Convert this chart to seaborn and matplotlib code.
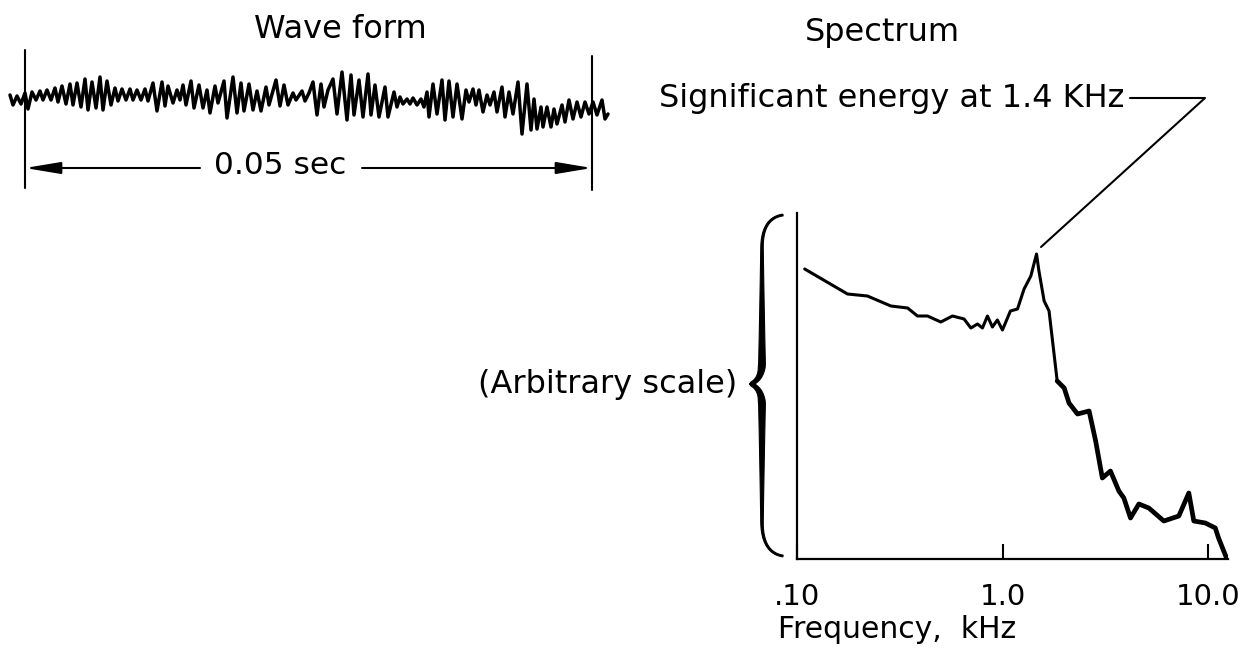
import matplotlib
matplotlib.use("Agg")
import matplotlib.pyplot as plt
import numpy as np
import seaborn as sns

# --- chart values ---

# wave form: digitised extrema of the trace (horizontal position in chart px, offset up in px)
wave_x = [10, 13, 17, 21, 25, 28, 32, 36, 40, 43, 47, 51, 55, 58, 62, 66, 70, 73, 77, 81,
          85, 88, 92, 96, 100, 103, 107, 111, 115, 118, 122, 126, 130, 133, 137, 141, 145, 148,
          153, 157, 162, 165, 168, 173, 177, 180, 183, 186, 191, 194, 199, 203, 207, 210,
          215, 218, 224, 227, 233, 237, 241, 244, 249, 253, 257, 261, 266, 269, 276, 280,
          284, 288, 293, 296, 302, 305, 309,
          313, 317, 321, 324, 328, 333, 337, 342, 347, 351, 354, 359, 363, 368, 371, 375,
          379, 385, 388, 394, 397, 400, 403, 407, 410, 413, 417, 421, 424, 427, 429, 433,
          437, 442, 445, 449, 453, 457,
          462, 466, 469, 473, 476, 479, 483, 487, 490, 494, 497, 502, 505, 509, 513, 518,
          522, 527, 531, 534, 537, 541, 543, 547, 551, 554, 557, 562, 565, 569, 573, 577,
          581, 585, 589, 593, 597, 602, 605, 608]
wave_y = [2, -8, 1, -7, 4, -12, 5, -3, 6, -3, 7, -3, 9, -5, 11, -7, 13, -8, 14, -10,
          18, -13, 15, -11, 20, -13, 16, -8, 9, -4, 8, -3, 8, -3, 7, -3, 8, -4,
          14, -14, 15, -9, 11, -6, 7, -3, 12, -8, 16, -11, 12, -11, 7, -16,
          11, -6, 16, -21, 20, -16, 14, -14, 13, -13, 6, -14, 10, -8, 17, -9,
          12, -8, 4, -3, 6, -4, 4,
          15, -18, 13, -10, 7, 18, -17, 25, -23, 22, -18, 17, -20, 23, -18, 12,
          -20, 10, -20, 5, -10, 0, -7, -2, -7, -1, -8, -2, -10, 5, -20, 13,
          -17, 17, -23, 16, -20, 13,
          -22, 7, -5, 8, -8, 7, -15, 2, -8, 5, -15, 10, -20, 5, -17, 15,
          -37, 13, -33, -2, -32, -10, -30, -10, -30, -12, -27, -8, -25, -3, -22, -5,
          -20, -5, -17, -5, -18, -3, -22, -17]

# spectrum (arbitrary level scale)
freq_khz = [0.109, 0.176, 0.220, 0.286, 0.345, 0.385, 0.431, 0.500, 0.570, 0.649,
            0.700, 0.754, 0.797, 0.843, 0.891, 0.942, 0.997, 1.09, 1.18, 1.27,
            1.37, 1.46, 1.50, 1.59, 1.68, 1.84, 1.99, 2.10, 2.31, 2.63,
            2.83, 3.05, 3.34, 3.67, 3.88, 4.18, 4.59, 5.13, 6.07, 7.18,
            8.03, 8.49, 9.66, 10.8, 11.2, 12.3]
level = [290, 265, 263, 253, 251, 243, 243, 237, 243, 240,
         231, 235, 231, 243, 232, 239, 229, 248, 250, 270,
         283, 305, 288, 258, 248, 178, 171, 156, 145, 148,
         118, 81, 88, 68, 61, 41, 55, 51, 38, 43,
         66, 38, 36, 31, 21, 0]

freq_ticks = [0.1, 1.0, 10.0]
freq_tick_labels = [".10", "1.0", "10.0"]

W, H = 1244, 664


def px_rect(x0, y0, x1, y1):
    """Figure-fraction rectangle from pixel corners (origin top-left)."""
    return [x0 / W, 1 - y1 / H, (x1 - x0) / W, (y1 - y0) / H]


def bezier(p0, p1, p2, p3, n=24):
    t = np.linspace(0, 1, n)[:, None]
    p0, p1, p2, p3 = (np.array(p, float) for p in (p0, p1, p2, p3))
    return (1 - t) ** 3 * p0 + 3 * (1 - t) ** 2 * t * p1 + 3 * (1 - t) * t ** 2 * p2 + t ** 3 * p3


sns.set_theme(style="white")
plt.rcParams["font.family"] = ["DejaVu Sans"]
plt.rcParams["text.color"] = "black"
plt.rcParams["axes.labelcolor"] = "black"
plt.rcParams["xtick.color"] = "black"

fig = plt.figure(figsize=(12.44, 6.64), dpi=100)
fig.patch.set_facecolor("white")

# overlay in pixel coordinates for the annotations
ov = fig.add_axes([0, 0, 1, 1])
ov.set_xlim(0, W)
ov.set_ylim(H, 0)
ov.axis("off")
ov.patch.set_alpha(0)

# --- wave form ---
wave_t = [(x - 25) * 50.0 / 567.0 for x in wave_x]  # px -> ms
axw = fig.add_axes(px_rect(25, 62, 592, 132))
sns.lineplot(x=wave_t, y=wave_y, ax=axw, color="black", linewidth=2.5,
             sort=False, estimator=None)
for ln in axw.lines:
    ln.set_clip_on(False)
    ln.set_solid_joinstyle("round")
axw.set_xlim(0, 50)
axw.set_ylim(-35, 35)
axw.axis("off")

ov.text(340, 30, "Wave form", ha="center", va="center", fontsize=23)
ov.plot([25, 25], [50, 188], color="black", lw=1.5)
ov.plot([592, 592], [56, 190], color="black", lw=1.5)
arrow = dict(arrowstyle="-|>,head_length=1.8,head_width=0.3",
             color="black", lw=1.5, shrinkA=0, shrinkB=0)
ov.annotate("", xy=(25, 168), xytext=(200, 168), arrowprops=arrow)
ov.annotate("", xy=(592, 168), xytext=(362, 168), arrowprops=arrow)
ov.text(280, 166, "0.05 sec", ha="center", va="center", fontsize=22.5)

# --- spectrum ---
axs = fig.add_axes(px_rect(797, 213, 1228, 559))
sns.lineplot(x=freq_khz, y=level, ax=axs, color="black", linewidth=2.2,
             sort=False, estimator=None)
hi = [i for i, f in enumerate(freq_khz) if f > 1.7]
sns.lineplot(x=[freq_khz[i] for i in hi], y=[level[i] for i in hi], ax=axs,
             color="black", linewidth=3.4, sort=False, estimator=None)
for ln in axs.lines:
    ln.set_solid_joinstyle("round")
axs.set_xscale("log")
axs.set_xlim(0.1, 12.45)
axs.set_ylim(0, 346)
axs.set_xticks(freq_ticks)
axs.set_xticklabels(freq_tick_labels, fontsize=21)
axs.xaxis.set_minor_locator(matplotlib.ticker.NullLocator())
axs.set_yticks([])
axs.tick_params(axis="x", direction="in", length=11, width=1.5, pad=17,
                bottom=True, colors="black")
for side in ["top", "right"]:
    axs.spines[side].set_visible(False)
for side in ["left", "bottom"]:
    axs.spines[side].set_color("black")
    axs.spines[side].set_linewidth(1.6)
axs.patch.set_alpha(0)
axs.set_xlabel("Frequency,  kHz", fontsize=21.5)
axs.xaxis.set_label_coords((897 - 797) / 431, (559 - 630) / 346)
axs.xaxis.label.set_va("center")

ov.text(882, 33, "Spectrum", ha="center", va="center", fontsize=23)
ov.text(1124, 98, "Significant energy at 1.4 KHz", ha="right", va="center", fontsize=23)
ov.plot([1130, 1205, 1041], [98, 98, 247], color="black", lw=1.5)

# brace: centre line, widened along its normal (thin ends, heavy middle)
segs = [((783, 215), (769, 217), (762, 228), (762, 248)),
        ((762, 248), (762, 290), (762, 320), (762, 362)),
        ((762, 362), (762, 376), (757, 381), (751, 384)),
        ((751, 384), (757, 387), (762, 392), (762, 406)),
        ((762, 406), (762, 450), (762, 480), (762, 522)),
        ((762, 522), (762, 542), (769, 554), (783, 556))]
pts = np.vstack([bezier(*s)[(1 if k else 0):] for k, s in enumerate(segs)])
bx, by = pts[:, 0], pts[:, 1]
gx, gy = np.gradient(bx), np.gradient(by)
norm = np.maximum(np.hypot(gx, gy), 1e-9)
nx, ny = -gy / norm, gx / norm
frac = np.clip(np.where(by < 384, (by - 215) / 169, (556 - by) / 172), 0, 1)
half = 0.9 + 2.9 * frac ** 1.3
half = np.where(frac > 0.9, half * (1 - (frac - 0.9) / 0.1 * 0.55), half)
ov.fill(np.concatenate([bx + nx * half, (bx - nx * half)[::-1]]),
        np.concatenate([by + ny * half, (by - ny * half)[::-1]]),
        color="black", lw=0.8)
ov.text(737, 385, "(Arbitrary scale)", ha="right", va="center", fontsize=23)

fig.savefig("out.png", dpi=100, facecolor="white")
